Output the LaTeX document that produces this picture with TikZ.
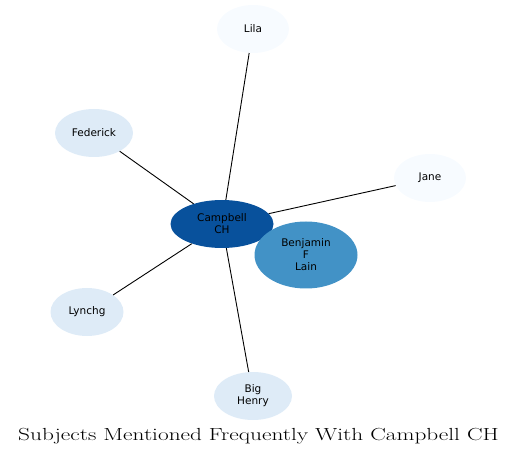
\documentclass[tikz,border=0pt]{standalone}
\usepackage{fontspec}
\newfontfamily\nodefont{DejaVu Sans}
\usepackage{xcolor}
\definecolor{hubBlue}{HTML}{08519C}
\definecolor{midBlue}{HTML}{4292C6}
\definecolor{paleBlue}{HTML}{DEEBF7}
\definecolor{faintBlue}{HTML}{F7FBFF}
\usetikzlibrary{shapes.geometric}

\begin{document}
\begin{tikzpicture}[x=1pt, y=-1pt,
  subj/.style={ellipse, draw=none, inner sep=0pt, align=center,
               font=\nodefont\fontsize{10.5}{12}\selectfont},
  link/.style={draw=black, line width=0.9pt}
]
\useasboundingbox (0,0) rectangle (517,457);

%% subjects
\node[subj, fill=hubBlue, minimum width=103pt, minimum height=48pt]  (camp) at (222,224) {Campbell\\CH};
\node[subj, fill=midBlue, minimum width=103pt, minimum height=67pt]  (benj) at (306,255) {Benjamin\\F\\Lain};
\node[subj, fill=faintBlue, minimum width=72pt, minimum height=48pt] (lila) at (253,29)  {Lila};
\node[subj, fill=paleBlue, minimum width=78pt, minimum height=48pt]  (fede) at (94,133)  {Federick};
\node[subj, fill=faintBlue, minimum width=72pt, minimum height=48pt] (jane) at (430,178) {Jane};
\node[subj, fill=paleBlue, minimum width=73pt, minimum height=48pt]  (lync) at (87,312)  {Lynchg};
\node[subj, fill=paleBlue, minimum width=78pt, minimum height=48pt]  (bigh) at (253,396) {Big\\Henry};

%% links
\draw[link] (camp) -- (lila);
\draw[link] (camp) -- (fede);
\draw[link] (camp) -- (jane);
\draw[link] (camp) -- (lync);
\draw[link] (camp) -- (bigh);

%% title
\node[font=\fontsize{17.5}{20}\selectfont, anchor=base] (title) at (258.5,440)
  {\scalebox{1.33}[1]{Subjects Mentioned Frequently With Campbell CH}};
\end{tikzpicture}
\end{document}
